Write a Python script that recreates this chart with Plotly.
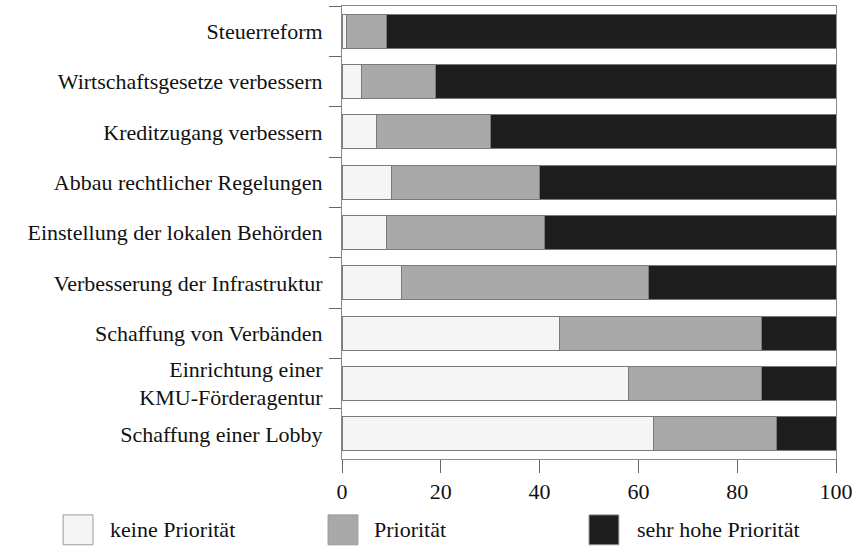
import plotly.graph_objects as go

categories = [
    "Steuerreform",
    "Wirtschaftsgesetze verbessern",
    "Kreditzugang verbessern",
    "Abbau rechtlicher Regelungen",
    "Einstellung der lokalen Behörden",
    "Verbesserung der Infrastruktur",
    "Schaffung von Verbänden",
    "Einrichtung einer<br>KMU-Förderagentur",
    "Schaffung einer Lobby",
]
keine = [1, 4, 7, 10, 9, 12, 44, 58, 63]
prioritaet = [8, 15, 23, 30, 32, 50, 41, 27, 25]
sehr_hoch = [91, 81, 70, 60, 59, 38, 15, 15, 12]
series_names = ["keine Priorität", "Priorität", "sehr hohe Priorität"]
x_ticks = [0, 20, 40, 60, 80, 100]

colors = ["#f5f5f5", "#a9a9a9", "#1e1e1e"]
FONT = "Liberation Serif, Times New Roman, serif"
FS = 22

fig = go.Figure()
for name, vals, col in zip(series_names, [keine, prioritaet, sehr_hoch], colors):
    fig.add_trace(go.Bar(
        y=categories, x=vals, name=name, orientation="h",
        marker=dict(color=col, line=dict(color="#7a7a7a", width=1)),
        showlegend=False,
    ))

W, H = 858, 547
L, R, T, B = 342, 20, 5, 88
pw, ph = W - L - R, H - T - B

def px_x(p):
    return (p - L) / pw

def px_y(p):
    return (H - B - p) / ph

# manual legend (large swatches)
legend_pos = [(62, 107), (328, 372), (590, 636)]
for (sx, tx), name, col in zip(legend_pos, series_names, colors):
    fig.add_shape(type="rect", xref="paper", yref="paper",
                  x0=px_x(sx), x1=px_x(sx + 30), y0=px_y(545), y1=px_y(515),
                  fillcolor=col, line=dict(color="#9a9a9a", width=1))
    fig.add_annotation(xref="paper", yref="paper", x=px_x(tx), y=px_y(530),
                       text=name, showarrow=False, xanchor="left", yanchor="middle",
                       font=dict(family=FONT, size=FS, color="#111"))

fig.update_layout(
    barmode="stack",
    bargap=0.33,
    width=W, height=H,
    margin=dict(l=L, r=R, t=T, b=B),
    paper_bgcolor="white", plot_bgcolor="white",
    font=dict(family=FONT, size=FS, color="#111"),
    xaxis=dict(range=[0, 100], tickvals=x_ticks, ticks="outside", ticklen=13,
               tickcolor="#666", showline=True, linecolor="#888", linewidth=1,
               mirror=True, showgrid=False, zeroline=False,
               tickfont=dict(family=FONT, size=FS, color="#111")),
    yaxis=dict(categoryorder="array", categoryarray=categories, autorange="reversed",
               ticks="outside", tickson="boundaries", ticklen=12, tickcolor="#666",
               showline=True, linecolor="#888", linewidth=1, mirror=True,
               showgrid=False, ticklabelstandoff=14,
               tickfont=dict(family=FONT, size=FS, color="#111")),
)

fig.write_html("out.html", config={"displayModeBar": False},
               post_script="document.body.style.margin='0';document.body.style.overflow='hidden';")
